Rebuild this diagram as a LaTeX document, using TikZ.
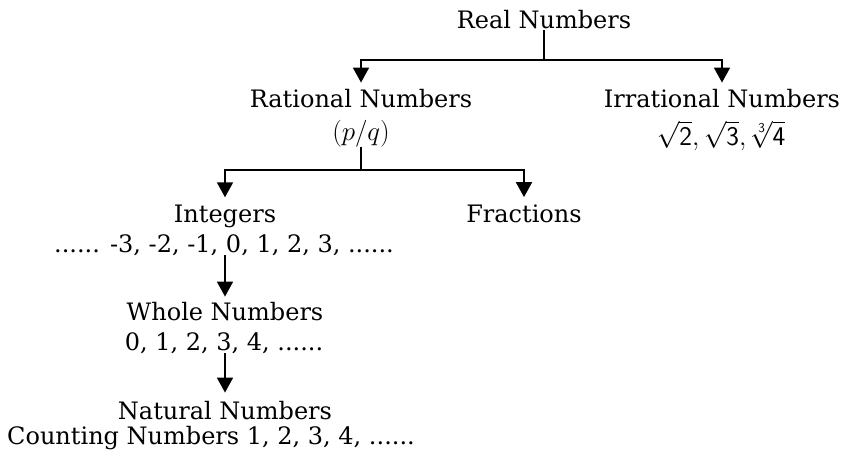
\RequirePackage{fix-cm}
\documentclass[tikz,border=0pt]{standalone}
\usepackage{fontspec}
\setmainfont{DejaVu Serif}
\usetikzlibrary{arrows.meta}
\begin{document}
\begin{tikzpicture}[x=1pt,y=-1pt,
  lbl/.style={inner sep=0pt,anchor=base,font=\fontsize{24}{28}\selectfont},
  mlbl/.style={lbl,font=\fontsize{27}{30}\selectfont},
  link/.style={line width=1.8pt},
  arr/.style={link,-{Triangle[width=16pt,length=15pt]}}]
\useasboundingbox (0,0) rectangle (843,452);
\node[lbl] (real) at (544,29) {Real Numbers};
\node[lbl] (rat) at (361,107) {Rational Numbers};
\node[mlbl] (pq) at (361,140) {$(p/q)$};
\node[lbl] (irr) at (722,107) {Irrational Numbers};
\node[mlbl,text height=20pt,text depth=1pt] (irrv) at (721,145) {$\sqrt{\mathsf{2}}, \sqrt{\mathsf{3}}, \sqrt[\mathsf{3}]{\mathsf{4}}$};
\node[lbl] (int) at (225,222) {Integers};
\node[lbl] (intv) at (224,252) {...... -3, -2, -1, 0, 1, 2, 3, ......};
\node[lbl] (frac) at (524,222) {Fractions};
\node[lbl] (whole) at (225,320) {Whole Numbers};
\node[lbl] (wholev) at (224,350) {0, 1, 2, 3, 4, ......};
\node[lbl] (nat) at (225,419) {Natural Numbers};
\node[lbl] (natv) at (211,444) {Counting Numbers 1, 2, 3, 4, ......};
\coordinate (j1) at (544,60);
\coordinate (j2) at (361,170);
\draw[link] (real) -- (j1);
\draw[arr,shorten >=6pt] (j1) -| (rat.north);
\draw[arr,shorten >=6pt] (j1) -| (irr.north);
\draw[link] (pq) -- (j2);
\draw[arr,shorten >=7pt] (j2) -| (int.north);
\draw[arr,shorten >=7pt] (j2) -| (frac.north);
\draw[arr,shorten >=5pt] (intv.south -| int.south) -- (whole.north);
\draw[arr,shorten >=8pt] (wholev.south -| whole.south) -- (nat.north);
\end{tikzpicture}
\end{document}
